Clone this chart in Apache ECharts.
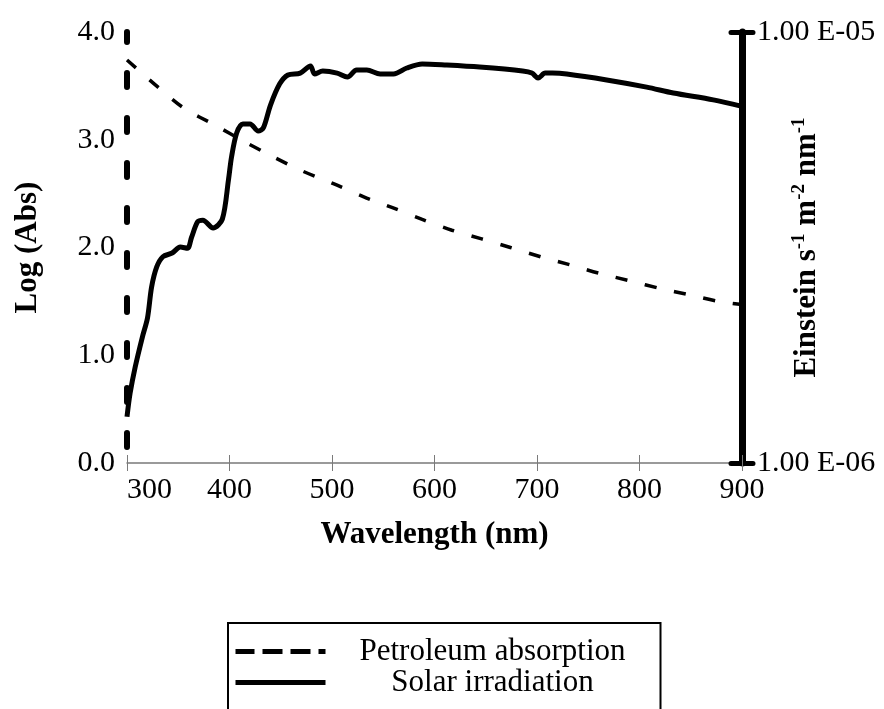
<!DOCTYPE html>
<html>
<head>
<meta charset="utf-8">
<script src="https://cdn.jsdelivr.net/npm/echarts@6/dist/echarts.min.js"></script>
<style>
  html, body { margin: 0; padding: 0; background: #fff; }
  #chart { width: 884px; height: 709px; }
</style>
</head>
<body>
<div id="chart"></div>
<script>
// ---- data ----
const xTicks = [300, 400, 500, 600, 700, 800, 900];
const leftTicks = [0, 1, 2, 3, 4];
const rightTicks = [1e-6, 1e-5];

const wavelengthPetroleum = [300, 330, 356, 385, 415, 443, 471, 502, 531, 559, 588, 617, 646, 674, 705, 732, 761, 791, 820, 849, 877, 900];
const petroleumLogAbs = [3.74, 3.49, 3.29, 3.14, 2.98, 2.84, 2.71, 2.59, 2.47, 2.37, 2.26, 2.16, 2.08, 2.00, 1.91, 1.84, 1.76, 1.69, 1.62, 1.56, 1.50, 1.47];

const wavelengthSolar = [300, 303, 308, 315, 320, 324, 329, 335, 344, 352, 359, 363, 369, 374, 384, 393, 399, 402, 407, 413, 420, 428, 433, 440, 449, 457, 469, 479, 483, 491, 505, 515, 524, 534, 547, 560, 573, 588, 612, 644, 686, 695, 701, 708, 715, 729, 768, 807, 833, 872, 900];
const solarIrradiation = [1.28e-6, 1.45e-6, 1.67e-6, 1.96e-6, 2.17e-6, 2.56e-6, 2.85e-6, 3.01e-6, 3.07e-6, 3.17e-6, 3.15e-6, 3.34e-6, 3.63e-6, 3.66e-6, 3.51e-6, 3.68e-6, 4.54e-6, 5.13e-6, 5.83e-6, 6.12e-6, 6.12e-6, 5.89e-6, 5.99e-6, 6.77e-6, 7.58e-6, 7.95e-6, 8.03e-6, 8.34e-6, 7.99e-6, 8.12e-6, 8.03e-6, 7.86e-6, 8.16e-6, 8.16e-6, 7.99e-6, 7.99e-6, 8.25e-6, 8.43e-6, 8.38e-6, 8.29e-6, 8.12e-6, 8.03e-6, 7.82e-6, 8.03e-6, 8.03e-6, 7.99e-6, 7.74e-6, 7.45e-6, 7.22e-6, 6.96e-6, 6.72e-6];

const seriesNames = ['Petroleum absorption', 'Solar irradiation'];

// ---- chart ----
const FONT = "'Liberation Serif', 'Times New Roman', serif";
const petroleumData = wavelengthPetroleum.map((x, i) => [x, petroleumLogAbs[i]]);
const solarData = wavelengthSolar.map((x, i) => [x, solarIrradiation[i]]);

function sciLabel(v) {
  const e = Math.round(Math.log10(v));
  const a = Math.abs(e);
  return '1.00 E' + (e < 0 ? '-' : '+') + (a < 10 ? '0' + a : '' + a);
}

const chart = echarts.init(document.getElementById('chart'), null, { renderer: 'canvas' });
chart.setOption({
  animation: false,
  backgroundColor: '#fff',
  textStyle: { fontFamily: FONT, color: '#000' },
  grid: { left: 127, right: 142, top: 32, bottom: 246, containLabel: false, outerBoundsMode: 'none' },
  xAxis: [
    {
      type: 'value', min: xTicks[0], max: xTicks[xTicks.length - 1], interval: 100,
      position: 'bottom',
      axisLine: { show: true, lineStyle: { color: '#7a7a7a', width: 1.5 } },
      axisTick: { show: true, inside: true, length: 8, lineStyle: { color: '#7a7a7a', width: 1 } },
      axisLabel: { fontSize: 30, color: '#000', fontFamily: FONT, margin: 12, alignMinLabel: 'left' },
      splitLine: { show: false },
      name: 'Wavelength (nm)', nameLocation: 'middle', nameGap: 56, nameMoveOverlap: false,
      nameTextStyle: { fontSize: 31, fontWeight: 'bold', color: '#000', fontFamily: FONT }
    },
    {
      type: 'value', min: xTicks[0], max: xTicks[xTicks.length - 1], interval: 100,
      position: 'bottom',
      axisLine: { show: false },
      axisTick: { show: true, inside: false, length: 8, lineStyle: { color: '#7a7a7a', width: 1 } },
      axisLabel: { show: false },
      splitLine: { show: false }
    }
  ],
  yAxis: [
    {
      type: 'value', min: leftTicks[0], max: leftTicks[leftTicks.length - 1], interval: 1,
      position: 'left',
      axisLine: { show: true, lineStyle: { color: '#000', width: 6, type: [14, 31], dashOffset: 29 } },
      axisTick: { show: false },
      axisLabel: { fontSize: 30, color: '#000', fontFamily: FONT, margin: 12, formatter: v => v.toFixed(1) },
      splitLine: { show: false },
      name: 'Log (Abs)', nameLocation: 'middle', nameGap: 84, nameMoveOverlap: false,
      nameTextStyle: { fontSize: 31, fontWeight: 'bold', color: '#000', fontFamily: FONT }
    },
    {
      type: 'log', logBase: 10, min: rightTicks[0], max: rightTicks[1],
      position: 'right',
      axisLine: { show: true, lineStyle: { color: '#000', width: 7, cap: 'round' } },
      axisTick: { show: true, inside: false, length: 11, lineStyle: { color: '#000', width: 5, cap: 'round' } },
      axisLabel: { fontSize: 30, color: '#000', fontFamily: FONT, margin: 15, formatter: sciLabel },
      splitLine: { show: false },
      name: '{b|Einstein s}{sup|-1}{b| m}{sup|-2}{b| nm}{sup|-1}',
      nameLocation: 'middle', nameGap: 48, nameMoveOverlap: false,
      nameTextStyle: {
        fontSize: 31, fontWeight: 'bold', color: '#000', fontFamily: FONT,
        rich: {
          b: { fontSize: 31, fontWeight: 'bold', fontFamily: FONT, color: '#000', lineHeight: 34 },
          sup: { fontSize: 19, fontWeight: 'bold', fontFamily: FONT, color: '#000', verticalAlign: 'top', lineHeight: 20 }
        }
      }
    },
    {
      type: 'log', logBase: 10, min: rightTicks[0], max: rightTicks[1],
      position: 'right',
      axisLine: { show: false },
      axisTick: { show: true, inside: true, length: 11, lineStyle: { color: '#000', width: 5, cap: 'round' } },
      axisLabel: { show: false },
      splitLine: { show: false }
    }
  ],
  legend: {
    orient: 'vertical',
    left: 228, top: 623, height: 160,
    padding: [13, 6, 24, 5],
    borderColor: '#000', borderWidth: 2,
    itemWidth: 90, itemHeight: 14, itemGap: 0,
    selectedMode: false,
    itemStyle: { color: 'transparent', borderWidth: 0, opacity: 0 },
    data: [
      { name: seriesNames[0], lineStyle: { width: 5, type: [20, 8], color: '#000' } },
      { name: seriesNames[1], lineStyle: { width: 5, color: '#000' } }
    ],
    formatter: name => '{c|' + name + '}',
    textStyle: {
      fontFamily: FONT, fontSize: 31, color: '#000',
      rich: { c: { width: 324, align: 'center', fontSize: 31, lineHeight: 31, fontFamily: FONT, color: '#000' } }
    }
  },
  series: [
    {
      name: seriesNames[0], type: 'line', xAxisIndex: 0, yAxisIndex: 0,
      data: petroleumData, symbol: 'none', smooth: 0.3,
      lineStyle: { color: '#000', width: 3.5, type: [12, 18] },
      itemStyle: { color: '#000' }
    },
    {
      name: seriesNames[1], type: 'line', xAxisIndex: 0, yAxisIndex: 1,
      data: solarData, symbol: 'none', smooth: 0.3,
      lineStyle: { color: '#000', width: 5 },
      itemStyle: { color: '#000' }
    }
  ]
});
</script>
</body>
</html>
